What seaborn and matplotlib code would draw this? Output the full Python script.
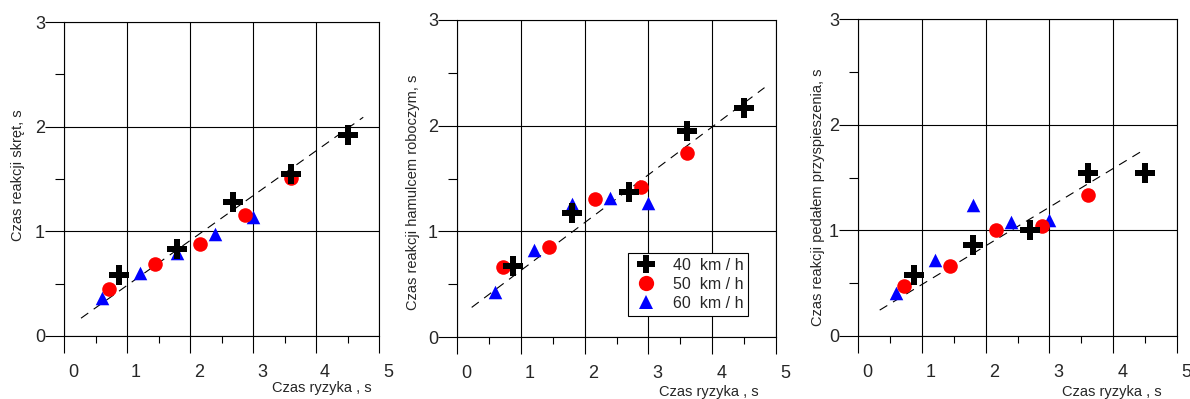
import matplotlib
matplotlib.use("Agg")
import matplotlib.pyplot as plt
import matplotlib.transforms as mtransforms
from matplotlib.lines import Line2D
import seaborn as sns
import pandas as pd

sns.set_theme(style="white")
plt.rcParams['font.family'] = ['Liberation Sans', 'DejaVu Sans']

# ---------------- data ----------------
x40 = [0.88, 1.80, 2.69, 3.60, 4.50]
x50 = [0.72, 1.44, 2.16, 2.88, 3.60]
x60 = [0.60, 1.20, 1.80, 2.40, 3.00]

skret_40 = [0.58, 0.83, 1.28, 1.55, 1.92]
skret_50 = [0.45, 0.69, 0.88, 1.16, 1.51]
skret_60 = [0.36, 0.60, 0.79, 0.97, 1.14]

hamulec_40 = [0.67, 1.17, 1.37, 1.95, 2.17]
hamulec_50 = [0.66, 0.85, 1.31, 1.42, 1.74]
hamulec_60 = [0.43, 0.82, 1.26, 1.32, 1.27]

pedal_40 = [0.58, 0.86, 1.00, 1.54, 1.54]
pedal_50 = [0.47, 0.66, 1.00, 1.04, 1.33]
pedal_60 = [0.41, 0.72, 1.24, 1.08, 1.10]

# dashed trend lines (end points)
trend_x = [[0.27, 4.75], [0.23, 4.82], [0.34, 4.45]]
trend_y = [[0.17, 2.09], [0.28, 2.36], [0.245, 1.75]]

ylabels = ["Czas reakcji skręt, s",
           "Czas reakcji hamulcem roboczym, s",
           "Czas reakcji pedałem przyspieszenia, s"]
xlabel = "Czas ryzyka , s"
legend_labels = ["40  km / h", "50  km / h", "60  km / h"]
xticks = [0, 1, 2, 3, 4, 5]
yticks = [0, 1, 2, 3]

series = [(skret_40, skret_50, skret_60),
          (hamulec_40, hamulec_50, hamulec_60),
          (pedal_40, pedal_50, pedal_60)]

# ---------------- layout ----------------
W, H = 1190, 399
fig = plt.figure(figsize=(W / 100, H / 100), dpi=100)
boxes = [(64, 379, 22, 336), (457, 776, 20, 337), (858, 1177, 19, 336)]
ylab_pos = [(18, 175), (413, 192), (818, 197)]
xlab_pos = [(372, 388), (759, 392), (1162, 392)]

for i, (l, r, t, b) in enumerate(boxes):
    ax = fig.add_axes([l / W, (H - b) / H, (r - l) / W, (b - t) / H])
    ax.set_xlim(0, 5)
    ax.set_ylim(0, 3)
    ax.set_xticks(xticks)
    ax.set_yticks(yticks)
    ax.set_xticks([0.5, 1.5, 2.5, 3.5, 4.5], minor=True)
    ax.set_yticks([0.5, 1.5, 2.5], minor=True)
    ax.grid(True, which='major', color='black', linewidth=0.8)
    for s in ax.spines.values():
        s.set_color('black')
        s.set_linewidth(0.8)
    ax.tick_params(axis='x', which='major', direction='out', length=12.2,
                   width=0.8, color='black', pad=8, labelsize=13, bottom=True)
    ax.tick_params(axis='y', which='major', direction='out', length=13.7,
                   width=0.8, color='black', pad=0, labelsize=13, left=True)
    ax.tick_params(axis='x', which='minor', direction='out', length=5,
                   width=0.8, color='black', bottom=True)
    ax.tick_params(axis='y', which='minor', direction='out', length=6.5,
                   width=0.8, color='black', left=True)
    off = mtransforms.ScaledTranslation(9 / 100, 0, fig.dpi_scale_trans)
    for lab in ax.get_xticklabels():
        lab.set_transform(lab.get_transform() + off)

    ax.plot(trend_x[i], trend_y[i], color='black', linewidth=0.8,
            linestyle=(0, (8, 6)), zorder=3)

    s40, s50, s60 = series[i]
    sns.scatterplot(x=x60, y=s60, marker='^', color='#0000ff', s=95,
                    linewidth=0, ax=ax, zorder=4)
    sns.scatterplot(x=x50, y=s50, marker='o', color='#ff0000', s=110,
                    linewidth=0, ax=ax, zorder=5)
    sns.scatterplot(x=x40, y=s40, marker='P', color='black', s=200,
                    linewidth=0, ax=ax, zorder=6)

    fig.text(ylab_pos[i][0] / W, 1 - ylab_pos[i][1] / H, ylabels[i],
             rotation=90, ha='center', va='center', fontsize=10.5)
    fig.text(xlab_pos[i][0] / W, 1 - xlab_pos[i][1] / H, xlabel,
             ha='right', va='center', fontsize=10.5)

    if i == 1:
        handles = [Line2D([], [], marker='P', color='black', linestyle='none', markersize=13, markeredgewidth=0),
                   Line2D([], [], marker='o', color='#ff0000', linestyle='none', markersize=11, markeredgewidth=0),
                   Line2D([], [], marker='^', color='#0000ff', linestyle='none', markersize=10, markeredgewidth=0)]
        leg = ax.legend(handles, legend_labels, loc='upper left',
                        bbox_to_anchor=((628 - l) / (r - l), (b - 253) / (b - t)),
                        borderaxespad=0, fancybox=False, framealpha=1,
                        edgecolor='black', fontsize=11.5, handlelength=1.6,
                        handletextpad=0.9, labelspacing=0.25, borderpad=0.3)
        leg.get_frame().set_linewidth(0.8)
        leg.set_zorder(10)

fig.savefig("out.png", dpi=100)
